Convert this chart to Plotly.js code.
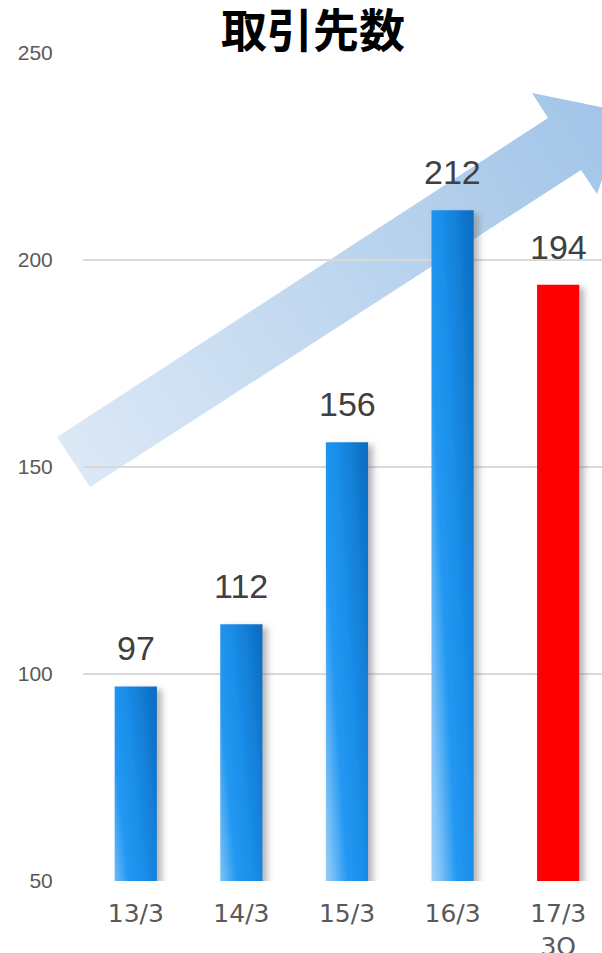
<!DOCTYPE html>
<html>
<head>
<meta charset="utf-8">
<script src="https://cdn.plot.ly/plotly-3.0.1.min.js"></script>
<style>
html,body{margin:0;padding:0;overflow:hidden;background:#fff;}
#chart{width:611px;height:953px;}
</style>
</head>
<body>
<div id="chart"></div>
<script>
// ---- data ----
const categories = ["13/3", "14/3", "15/3", "16/3", "17/3<br>3Q"];
const values = [97, 112, 156, 212, 194];
const barColors = ["#2196f3", "#2196f3", "#2196f3", "#2196f3", "#ff0000"];
const yTicks = [50, 100, 150, 200, 250];
const chartTitle = "取引先数";

// ---- layout constants ----
const W = 611, H = 953, ML = 83, MR = 0, MT = 53, MB = 72;
const PW = W - ML - MR, PH = H - MT - MB;
function px2paper(p) { return [(p[0] - ML) / PW, (H - MB - p[1]) / PH]; }
// decorative arrow outline (pixel positions)
const arrowPts = [[57,437],[548,118],[532,93],[626,112],[597,194],[581,170],[90,487]];
const arrowPath = arrowPts.map((p, i) => {
  const q = px2paper(p);
  return (i === 0 ? "M" : "L") + q[0].toFixed(4) + "," + q[1].toFixed(4);
}).join(" ") + " Z";

const trace = {
  type: "bar",
  x: categories,
  y: values,
  marker: { color: barColors, line: { width: 0 } },
  hoverinfo: "none"
};

const annotations = categories.map((c, i) => ({
  x: c, y: values[i], xref: "x", yref: "y",
  text: String(values[i]),
  showarrow: false, yanchor: "bottom", yshift: 17,
  font: { family: "Liberation Sans, Arial, sans-serif", size: 34, color: "#404040" }
}));

const layout = {
  width: W, height: H,
  margin: { l: ML, r: MR, t: MT, b: MB, pad: 0 },
  paper_bgcolor: "#ffffff", plot_bgcolor: "#ffffff",
  showlegend: false,
  bargap: 0.6,
  title: {
    text: chartTitle,
    font: { family: "Noto Sans CJK JP, sans-serif", size: 46, color: "#000000", weight: "bold" },
    xref: "container", yref: "container",
    x: 313 / W, xanchor: "center",
    y: 1 - 31 / H, yanchor: "middle"
  },
  xaxis: {
    type: "category",
    showgrid: false, zeroline: false, showline: false,
    ticks: "outside", ticklen: 10, tickcolor: "rgba(0,0,0,0)",
    tickfont: { family: "DejaVu Sans, Verdana, sans-serif", size: 25, color: "#595959" },
    fixedrange: true
  },
  yaxis: {
    range: [50, 250],
    tickvals: yTicks, ticktext: yTicks.map(String),
    showgrid: true, gridcolor: "#d9d9d9", gridwidth: 2,
    zeroline: false, showline: false,
    ticks: "outside", ticklen: 25, tickcolor: "rgba(0,0,0,0)",
    tickfont: { family: "Liberation Sans, Arial, sans-serif", size: 21, color: "#595959" },
    fixedrange: true
  },
  shapes: [{
    type: "path", xref: "paper", yref: "paper",
    path: arrowPath, layer: "below",
    fillcolor: "#c0d8f0", line: { width: 0 }
  }],
  annotations: annotations
};

Plotly.newPlot("chart", [trace], layout, { staticPlot: true, displayModeBar: false }).then(gd => {
  const NS = "http://www.w3.org/2000/svg";
  const svg = gd.querySelector(".main-svg");
  let defs = svg.querySelector("defs");
  if (!defs) { defs = document.createElementNS(NS, "defs"); svg.insertBefore(defs, svg.firstChild); }
  function grad(id, attrs, stops) {
    const g = document.createElementNS(NS, "linearGradient");
    g.setAttribute("id", id);
    for (const k in attrs) g.setAttribute(k, attrs[k]);
    stops.forEach(s => {
      const st = document.createElementNS(NS, "stop");
      st.setAttribute("offset", s[0]);
      st.setAttribute("stop-color", s[1]);
      g.appendChild(st);
    });
    defs.appendChild(g);
  }
  grad("barGrad", { x1: 0, y1: 1, x2: 1, y2: 0 },
    [[0, "#c6e3fb"], [0.22, "#80c3f7"], [0.42, "#2398f2"], [0.62, "#1a8ee9"], [1, "#0a6bbf"]]);
  grad("arrowGrad", { gradientUnits: "userSpaceOnUse", x1: 60, y1: 470, x2: 600, y2: 120 },
    [[0, "#dde9f6"], [1, "#a2c5e8"]]);
  const f = document.createElementNS(NS, "filter");
  f.setAttribute("id", "barShadow");
  f.setAttribute("x", "-30%"); f.setAttribute("y", "-5%");
  f.setAttribute("width", "180%"); f.setAttribute("height", "115%");
  const ds = document.createElementNS(NS, "feDropShadow");
  ds.setAttribute("dx", "5"); ds.setAttribute("dy", "3");
  ds.setAttribute("stdDeviation", "3");
  ds.setAttribute("flood-color", "#707070");
  ds.setAttribute("flood-opacity", "0.5");
  f.appendChild(ds);
  defs.appendChild(f);

  const paths = gd.querySelectorAll(".trace.bars .point path");
  paths.forEach((p, i) => {
    if (barColors[i] !== "#ff0000") p.style.fill = "url(#barGrad)";
    p.setAttribute("filter", "url(#barShadow)");
  });
  const sh = gd.querySelector(".shapelayer path");
  if (sh) sh.style.fill = "url(#arrowGrad)";
});
</script>
</body>
</html>
